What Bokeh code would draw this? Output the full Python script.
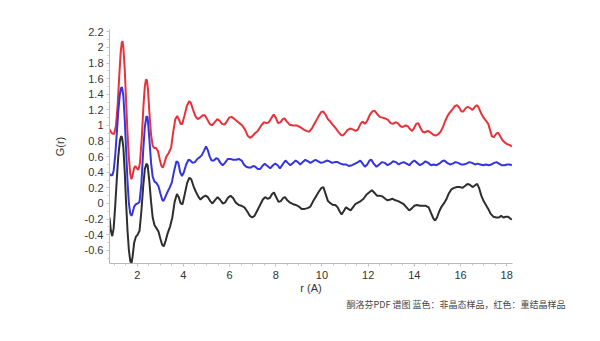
from bokeh.plotting import figure
from bokeh.models import Range1d, FixedTicker, Title
from bokeh.embed import file_html
from bokeh.resources import INLINE

# ---- data (r in Å, G(r)) ----
r_red = [0.80,0.90,1.00,1.08,1.15,1.22,1.28,1.33,1.36,1.40,1.46,1.52,1.58,1.64,1.70,1.75,1.80,1.86,1.92,1.98,2.05,2.12,2.20,2.27,2.33,2.38,2.42,2.47,2.53,2.60,2.67,2.74,2.82,2.90,2.98,3.05,3.11,3.18,3.26,3.37,3.47,3.56,3.65,3.73,3.80,3.88,3.95,4.05,4.15,4.25,4.32,4.42,4.52,4.62,4.72,4.84,4.93,5.03,5.14,5.24,5.35,5.47,5.57,5.67,5.78,5.88,5.98,6.08,6.18,6.30,6.42,6.55,6.68,6.78,6.88,6.98,7.10,7.22,7.35,7.48,7.60,7.70,7.82,7.91,8.00,8.10,8.20,8.30,8.38,8.48,8.60,8.75,8.90,9.05,9.20,9.32,9.45,9.58,9.71,9.84,9.96,10.05,10.15,10.26,10.36,10.46,10.58,10.70,10.82,10.90,11.00,11.10,11.22,11.34,11.46,11.56,11.67,11.76,11.86,11.96,12.06,12.18,12.28,12.38,12.50,12.62,12.74,12.86,12.97,13.07,13.18,13.28,13.40,13.50,13.62,13.72,13.82,13.90,13.98,14.08,14.17,14.26,14.36,14.46,14.58,14.70,14.82,14.92,15.04,15.14,15.24,15.34,15.45,15.55,15.66,15.76,15.85,15.94,16.04,16.12,16.22,16.32,16.42,16.52,16.62,16.72,16.80,16.90,17.00,17.10,17.20,17.28,17.36,17.44,17.54,17.62,17.72,17.82,17.92,18.02,18.12,18.22]
g_red = [0.95,0.90,0.89,1.00,1.25,1.62,1.92,2.06,2.08,2.00,1.72,1.30,0.90,0.58,0.38,0.31,0.36,0.45,0.48,0.45,0.43,0.52,0.85,1.25,1.50,1.59,1.58,1.45,1.15,0.88,0.74,0.71,0.71,0.67,0.56,0.48,0.46,0.52,0.60,0.65,0.72,0.92,1.08,1.12,1.08,1.02,1.02,1.13,1.25,1.31,1.29,1.20,1.12,1.08,1.10,1.13,1.13,1.08,1.02,1.00,1.04,1.08,1.06,1.02,1.01,1.05,1.10,1.11,1.09,1.06,1.03,1.00,0.94,0.87,0.84,0.86,0.90,0.93,0.99,1.04,1.03,1.04,1.10,1.14,1.10,1.03,1.04,1.08,1.09,1.05,1.01,1.00,1.00,0.98,0.95,0.93,0.92,0.97,1.04,1.11,1.17,1.18,1.14,1.08,1.05,1.01,0.97,0.92,0.88,0.87,0.90,0.94,0.96,0.95,0.93,0.95,1.02,1.05,1.02,1.06,1.13,1.18,1.19,1.15,1.11,1.10,1.09,1.07,1.03,1.02,1.04,1.03,0.99,0.98,1.00,0.99,0.95,0.93,0.96,1.02,1.03,0.97,0.92,0.91,0.93,0.91,0.88,0.87,0.89,0.92,0.98,1.06,1.13,1.17,1.21,1.25,1.26,1.23,1.18,1.18,1.22,1.24,1.22,1.20,1.24,1.26,1.22,1.15,1.10,1.06,1.02,0.94,0.86,0.85,0.89,0.91,0.86,0.81,0.78,0.76,0.75,0.73]

r_blue = [0.80,0.86,0.92,0.98,1.05,1.12,1.18,1.25,1.30,1.34,1.40,1.46,1.52,1.58,1.64,1.70,1.75,1.80,1.87,1.94,2.02,2.10,2.18,2.26,2.33,2.40,2.45,2.52,2.60,2.67,2.75,2.84,2.92,3.00,3.08,3.13,3.20,3.30,3.40,3.50,3.60,3.70,3.78,3.86,3.94,4.02,4.12,4.22,4.30,4.40,4.50,4.60,4.70,4.80,4.90,4.98,5.06,5.14,5.22,5.32,5.42,5.50,5.60,5.70,5.80,5.92,6.04,6.16,6.28,6.40,6.52,6.62,6.72,6.82,6.92,7.02,7.12,7.22,7.32,7.42,7.52,7.64,7.76,7.88,7.98,8.08,8.18,8.30,8.42,8.52,8.63,8.75,8.86,8.96,9.06,9.17,9.28,9.40,9.50,9.61,9.72,9.84,9.96,10.08,10.20,10.32,10.44,10.56,10.68,10.80,10.92,11.04,11.16,11.30,11.44,11.56,11.66,11.76,11.86,11.96,12.06,12.14,12.24,12.36,12.48,12.60,12.72,12.84,12.96,13.08,13.20,13.32,13.44,13.54,13.66,13.78,13.90,14.00,14.12,14.24,14.36,14.48,14.60,14.72,14.84,14.96,15.08,15.20,15.30,15.42,15.54,15.66,15.78,15.90,16.02,16.14,16.26,16.38,16.50,16.62,16.74,16.86,16.98,17.10,17.22,17.34,17.46,17.56,17.66,17.78,17.90,18.02,18.12,18.22]
g_blue = [0.38,0.36,0.36,0.42,0.62,0.92,1.18,1.40,1.48,1.49,1.38,1.08,0.68,0.28,0.00,-0.13,-0.16,-0.12,-0.04,-0.01,0.00,0.02,0.25,0.68,0.98,1.12,1.10,0.85,0.52,0.34,0.28,0.26,0.22,0.13,0.05,0.03,0.07,0.14,0.20,0.27,0.42,0.54,0.52,0.40,0.35,0.40,0.50,0.56,0.55,0.52,0.53,0.57,0.59,0.62,0.68,0.73,0.68,0.60,0.55,0.55,0.58,0.57,0.52,0.49,0.52,0.57,0.57,0.56,0.56,0.57,0.55,0.50,0.47,0.46,0.46,0.48,0.47,0.44,0.44,0.48,0.51,0.48,0.45,0.49,0.51,0.49,0.45,0.50,0.55,0.52,0.49,0.52,0.55,0.53,0.50,0.53,0.56,0.54,0.52,0.54,0.56,0.54,0.52,0.53,0.55,0.54,0.52,0.53,0.53,0.51,0.50,0.50,0.48,0.49,0.51,0.53,0.55,0.51,0.47,0.50,0.55,0.56,0.51,0.47,0.50,0.53,0.52,0.49,0.51,0.54,0.53,0.50,0.52,0.53,0.51,0.49,0.53,0.55,0.52,0.49,0.51,0.54,0.52,0.49,0.50,0.49,0.51,0.54,0.55,0.52,0.50,0.51,0.53,0.52,0.50,0.50,0.51,0.53,0.52,0.50,0.51,0.50,0.49,0.50,0.49,0.50,0.52,0.53,0.51,0.49,0.49,0.50,0.50,0.49]

r_black = [0.80,0.86,0.92,0.98,1.05,1.12,1.18,1.25,1.30,1.34,1.40,1.46,1.52,1.58,1.64,1.70,1.75,1.80,1.87,1.94,2.02,2.10,2.18,2.26,2.33,2.40,2.45,2.52,2.60,2.67,2.75,2.84,2.92,3.00,3.08,3.15,3.23,3.32,3.42,3.52,3.62,3.72,3.80,3.88,3.96,4.06,4.16,4.26,4.34,4.44,4.54,4.64,4.74,4.84,4.96,5.06,5.16,5.26,5.36,5.48,5.58,5.70,5.80,5.92,6.04,6.15,6.27,6.40,6.52,6.64,6.76,6.88,6.98,7.08,7.20,7.32,7.44,7.54,7.64,7.74,7.84,7.92,8.02,8.12,8.22,8.32,8.40,8.50,8.62,8.75,8.88,9.00,9.12,9.25,9.38,9.50,9.62,9.74,9.86,9.98,10.06,10.16,10.26,10.38,10.48,10.58,10.68,10.78,10.85,10.94,11.04,11.14,11.24,11.34,11.44,11.56,11.68,11.80,11.92,12.04,12.16,12.26,12.38,12.50,12.62,12.74,12.84,12.96,13.06,13.18,13.30,13.42,13.54,13.66,13.78,13.90,14.00,14.11,14.24,14.36,14.50,14.62,14.72,14.82,14.90,14.98,15.08,15.18,15.28,15.38,15.48,15.60,15.72,15.84,15.96,16.08,16.18,16.30,16.40,16.52,16.62,16.72,16.80,16.90,17.00,17.10,17.20,17.30,17.42,17.55,17.66,17.76,17.86,17.96,18.06,18.14,18.22]
g_black = [-0.18,-0.35,-0.42,-0.32,-0.02,0.33,0.60,0.80,0.86,0.85,0.72,0.40,0.00,-0.35,-0.60,-0.74,-0.77,-0.68,-0.50,-0.43,-0.40,-0.35,-0.10,0.22,0.44,0.51,0.49,0.30,0.02,-0.18,-0.28,-0.32,-0.36,-0.45,-0.53,-0.55,-0.48,-0.38,-0.30,-0.18,0.02,0.12,0.08,0.00,-0.01,0.12,0.26,0.33,0.31,0.22,0.15,0.09,0.05,0.08,0.10,0.08,0.03,0.00,0.04,0.08,0.05,0.00,0.01,0.07,0.10,0.07,0.01,-0.02,-0.03,-0.05,-0.10,-0.16,-0.18,-0.16,-0.09,-0.02,0.05,0.08,0.06,0.07,0.12,0.14,0.08,0.02,0.03,0.07,0.08,0.04,0.01,-0.01,-0.02,-0.04,-0.07,-0.07,-0.06,-0.04,0.03,0.09,0.15,0.20,0.21,0.12,0.03,0.00,-0.02,-0.02,-0.05,-0.11,-0.14,-0.10,-0.05,-0.07,-0.09,-0.05,-0.01,0.01,0.03,0.06,0.11,0.14,0.17,0.14,0.10,0.10,0.09,0.06,0.04,0.05,0.06,0.04,0.03,0.01,-0.01,-0.05,-0.09,-0.06,-0.03,-0.02,-0.03,-0.03,-0.03,-0.05,-0.12,-0.19,-0.22,-0.18,-0.10,-0.04,0.00,0.05,0.12,0.18,0.20,0.21,0.21,0.20,0.22,0.25,0.24,0.21,0.23,0.25,0.20,0.10,0.03,-0.02,-0.07,-0.13,-0.17,-0.18,-0.18,-0.16,-0.18,-0.17,-0.17,-0.19,-0.21]

x_ticks = [2, 4, 6, 8, 10, 12, 14, 16, 18]
y_ticks = [-0.6, -0.4, -0.2, 0, 0.2, 0.4, 0.6, 0.8, 1, 1.2, 1.4, 1.6, 1.8, 2, 2.2]
y_tick_labels = ["-0.6", "-0.4", "-0.2", "0", "0.2", "0.4", "0.6", "0.8", "1", "1.2", "1.4", "1.6", "1.8", "2", "2.2"]
x_label = "r (A)"
y_label = "G(r)"
caption = "酮洛芬PDF 谱图 蓝色：非晶态样品，红色：重结晶样品"

FONT = "Liberation Sans"

p = figure(width=600, height=341, output_backend="svg", toolbar_location=None,
           x_range=Range1d(0.8, 18.25), y_range=Range1d(-0.77, 2.23),
           min_border_left=109, min_border_right=88, min_border_top=29, min_border_bottom=78)
p.outline_line_color = None
p.xgrid.visible = False
p.ygrid.visible = False
p.background_fill_color = "white"
p.border_fill_color = "white"

p.line(r_red, g_red, line_color="#e8323a", line_width=2)
p.line(r_blue, g_blue, line_color="#3535e0", line_width=2)
p.line(r_black, g_black, line_color="#2e2e2e", line_width=2)

for ax in (p.xaxis[0], p.yaxis[0]):
    ax.axis_line_color = "#b8b8b8"
    ax.major_tick_line_color = "#b8b8b8"
    ax.minor_tick_line_color = "#c8c8c8"
    ax.major_tick_out = 3
    ax.major_tick_in = 0
    ax.minor_tick_out = 2
    ax.minor_tick_in = 0
    ax.major_label_text_font = FONT
    ax.major_label_text_font_size = "11px"
    ax.major_label_text_color = "#333333"
    ax.axis_label_text_font = FONT
    ax.axis_label_text_font_size = "11px"
    ax.axis_label_text_font_style = "normal"
    ax.axis_label_text_color = "#333333"

p.xaxis.ticker = FixedTicker(ticks=x_ticks, minor_ticks=[v / 2 for v in range(2, 37)])
p.xaxis.major_label_standoff = 4
p.xaxis.axis_label = x_label
p.xaxis.axis_label_standoff = 0

p.yaxis.ticker = FixedTicker(ticks=y_ticks, minor_ticks=[round(-0.7 + 0.1 * i, 2) for i in range(30)])
p.yaxis.major_label_overrides = {t: s for t, s in zip(y_ticks, y_tick_labels)}
p.yaxis.major_label_standoff = 3
p.yaxis.axis_label = y_label
p.yaxis.axis_label_standoff = 16

p.add_layout(Title(text=caption, align="right", offset=-53, text_font="Noto Sans CJK SC",
                   text_font_size="9px", text_font_style="normal", text_color="#444444",
                   standoff=-2), "below")

open("out.html", "w").write(file_html(p, INLINE))
